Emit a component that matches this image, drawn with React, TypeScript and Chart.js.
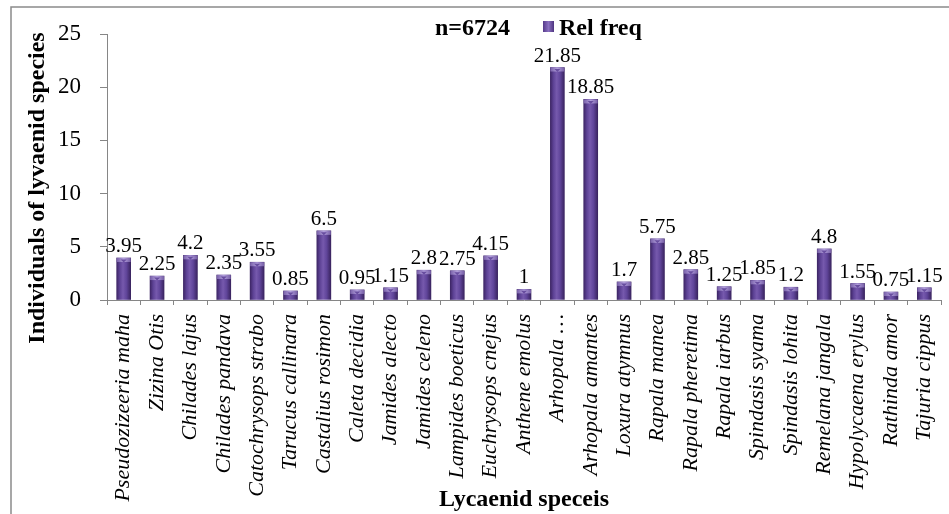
import React, { useEffect, useRef } from "react";
import { Chart, registerables } from "chart.js";

Chart.register(...registerables);

// Lycaenid species and their relative frequency (%)
const species = [
  "Pseudozizeeria maha",
  "Zizina Otis",
  "Chilades lajus",
  "Chilades pandava",
  "Catochrysops strabo",
  "Tarucus callinara",
  "Castalius rosimon",
  "Caleta decidia",
  "Jamides alecto",
  "Jamides celeno",
  "Lampides boeticus",
  "Euchrysops cnejus",
  "Anthene emolus",
  "Arhopala …",
  "Arhopala amantes",
  "Loxura atymnus",
  "Rapala manea",
  "Rapala pheretima",
  "Rapala iarbus",
  "Spindasis syama",
  "Spindasis lohita",
  "Remelana jangala",
  "Hypolycaena erylus",
  "Rathinda amor",
  "Tajuria cippus",
];

const relFreq = [
  3.95, 2.25, 4.2, 2.35, 3.55, 0.85, 6.5, 0.95, 1.15, 2.8, 2.75, 4.15, 1,
  21.85, 18.85, 1.7, 5.75, 2.85, 1.25, 1.85, 1.2, 4.8, 1.55, 0.75, 1.15,
];

const yTicks = [0, 5, 10, 15, 20, 25];

const seriesName = "Rel freq";
const sampleLabel = "n=6724";
const xTitle = "Lycaenid speceis";
const yTitle = "Individuals of lyvaenid species";

const SERIF = '"Liberation Serif", "Times New Roman", Times, serif';
const AXIS_GREY = "#868686";
const BAR_W = 14;
const BAR_BASE = "#5f4394";

// Horizontal shading that gives each bar a rounded, cylinder-like look
function cylinderGradient(ctx: CanvasRenderingContext2D, cx: number, half: number) {
  const g = ctx.createLinearGradient(cx - half, 0, cx + half, 0);
  g.addColorStop(0, "#3e2666");
  g.addColorStop(0.22, "#5d4295");
  g.addColorStop(0.45, "#7659ad");
  g.addColorStop(0.7, "#60459a");
  g.addColorStop(1, "#3a2460");
  return g;
}

const decorations = {
  id: "decorations",
  beforeDraw(chart: any) {
    const ctx = chart.ctx as CanvasRenderingContext2D;
    ctx.save();
    ctx.fillStyle = "#ffffff";
    ctx.fillRect(0, 0, chart.width, chart.height);
    // outer frame of the chart
    ctx.strokeStyle = "#8a8a8a";
    ctx.lineWidth = 1.5;
    ctx.strokeRect(11, 7, chart.width + 20, chart.height + 20);
    ctx.restore();
  },
  afterDatasetsDraw(chart: any) {
    const ctx = chart.ctx as CanvasRenderingContext2D;
    const meta = chart.getDatasetMeta(0);
    ctx.save();
    meta.data.forEach((bar: any, i: number) => {
      const { x, y } = bar.getProps(["x", "y"], true);
      if (!Number.isFinite(x) || !Number.isFinite(y)) return;
      const half = BAR_W / 2;
      // light cap on the top of the bar
      const cap = ctx.createLinearGradient(x - half, 0, x + half, 0);
      cap.addColorStop(0, "#7860a8");
      cap.addColorStop(0.5, "#b29fdc");
      cap.addColorStop(1, "#765ea6");
      ctx.fillStyle = cap;
      ctx.fillRect(x - half, y, BAR_W, 4);
      ctx.fillStyle = "#684e9f";
      ctx.beginPath();
      ctx.moveTo(x - 3, y + 1.5);
      ctx.lineTo(x + 3, y + 1.5);
      ctx.lineTo(x, y + 4.5);
      ctx.closePath();
      ctx.fill();

      // value label
      ctx.fillStyle = "#000000";
      ctx.font = `21px ${SERIF}`;
      ctx.textAlign = "center";
      ctx.textBaseline = "alphabetic";
      ctx.fillText(String(relFreq[i]), x, y - 6);
    });
    ctx.restore();
  },
  afterDraw(chart: any) {
    const ctx = chart.ctx as CanvasRenderingContext2D;
    const area = chart.chartArea;
    ctx.save();
    ctx.fillStyle = "#000000";

    // sample size and legend on one line
    ctx.font = `bold 24px ${SERIF}`;
    ctx.textBaseline = "alphabetic";
    ctx.textAlign = "left";
    ctx.fillText(sampleLabel, 435, 35);

    const sw = ctx.createLinearGradient(543, 0, 554, 0);
    sw.addColorStop(0, "#55398a");
    sw.addColorStop(0.5, "#8a70c0");
    sw.addColorStop(1, "#4e3480");
    ctx.fillStyle = sw;
    ctx.fillRect(543, 21, 11, 11);
    ctx.fillStyle = "#000000";
    ctx.fillText(seriesName, 559, 35);

    // axis titles
    ctx.textAlign = "center";
    ctx.textBaseline = "middle";
    ctx.fillText(xTitle, (area.left + area.right) / 2, 500);

    ctx.translate(38, 188);
    ctx.rotate(-Math.PI / 2);
    ctx.fillText(yTitle, 0, 0);
    ctx.restore();
  },
};

export default function App() {
  const canvasRef = useRef<HTMLCanvasElement | null>(null);

  useEffect(() => {
    document.body.style.margin = "0";
    const canvas = canvasRef.current;
    if (!canvas) return;

    const chart = new Chart(canvas, {
      type: "bar",
      data: {
        labels: species,
        datasets: [
          {
            label: seriesName,
            data: relFreq,
            barThickness: BAR_W,
            borderWidth: 0,
            backgroundColor: (c: any) => {
              const ch = c.chart;
              const xs = ch && ch.scales && ch.scales.x;
              if (!xs || c.dataIndex == null) return BAR_BASE;
              const cx = xs.getPixelForValue(c.dataIndex);
              if (!Number.isFinite(cx)) return BAR_BASE;
              return cylinderGradient(ch.ctx, cx, BAR_W / 2);
            },
          },
        ],
      },
      options: {
        responsive: false,
        animation: false,
        devicePixelRatio: 1,
        layout: { padding: { top: 34, right: 8, left: 0, bottom: 0 } },
        plugins: {
          legend: { display: false },
          title: { display: false },
          tooltip: { enabled: false },
        },
        scales: {
          x: {
            offset: true,
            grid: {
              display: true,
              offset: true,
              drawOnChartArea: false,
              drawTicks: true,
              tickLength: 5,
              color: AXIS_GREY,
            },
            border: { display: true, color: AXIS_GREY, width: 1 },
            ticks: {
              autoSkip: false,
              minRotation: 90,
              maxRotation: 90,
              padding: 9,
              color: "#000000",
              font: { family: SERIF, size: 22, style: "italic" },
            },
            afterFit(scale: any) {
              scale.height = 214;
              scale.paddingLeft = 0;
              scale.paddingRight = 0;
            },
          },
          y: {
            min: 0,
            max: 25,
            afterBuildTicks(scale: any) {
              scale.ticks = yTicks.map((v) => ({ value: v }));
            },
            grid: {
              display: true,
              drawOnChartArea: false,
              drawTicks: true,
              tickLength: 7,
              color: AXIS_GREY,
            },
            border: { display: true, color: AXIS_GREY, width: 1 },
            ticks: {
              padding: 19,
              color: "#000000",
              font: { family: SERIF, size: 23 },
            },
            afterFit(scale: any) {
              scale.width = 107;
              scale.paddingTop = 0;
              scale.paddingBottom = 0;
            },
          },
        },
      },
      plugins: [decorations],
    });

    return () => chart.destroy();
  }, []);

  return (
    <div style={{ width: 949, height: 514, overflow: "hidden" }}>
      <canvas ref={canvasRef} width={949} height={514} style={{ display: "block" }} />
    </div>
  );
}
